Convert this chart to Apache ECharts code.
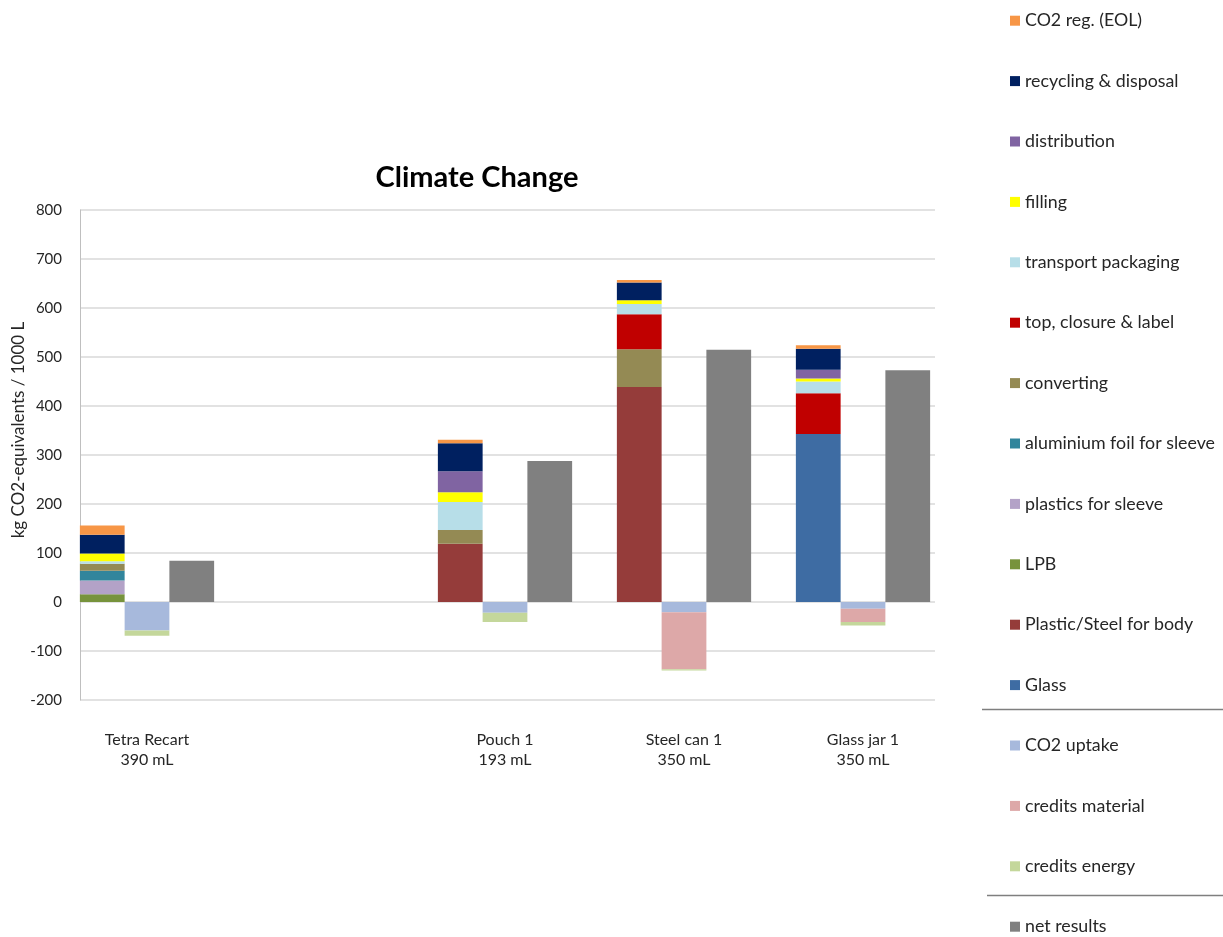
<!DOCTYPE html>
<html>
<head>
<meta charset="utf-8">
<script src="https://cdn.jsdelivr.net/npm/echarts@6/dist/echarts.min.js"></script>
<style>
html,body{margin:0;padding:0;background:#fff;}
#chart{width:1223px;height:937px;}
</style>
</head>
<body>
<div id="chart"></div>
<script>
// ---- data ----
const categories = ['Tetra Recart\n390 mL', '', 'Pouch 1\n193 mL', 'Steel can 1\n350 mL', 'Glass jar 1\n350 mL'];
const yTicks = [-200, -100, 0, 100, 200, 300, 400, 500, 600, 700, 800];

// positive contributions (stack order bottom -> top)
const glass              = [0,   null, 0,   0,   343];
const plasticSteelBody   = [0,   null, 119, 439, 0];
const lpb                = [16,  null, 0,   0,   0];
const plasticsSleeve     = [28,  null, 0,   0,   0];
const aluFoilSleeve      = [20,  null, 0,   0,   0];
const converting         = [14,  null, 28,  77,  0];
const topClosureLabel    = [0,   null, 0,   71,  83];
const transportPackaging = [5,   null, 57,  21,  24];
const filling            = [16,  null, 20,  8,   6];
const distribution       = [0,   null, 43,  0,   18];
const recyclingDisposal  = [38,  null, 57,  36,  43];
const co2RegEOL          = [19,  null, 7,   5,   7];
// credits
const co2Uptake          = [-58, null, -22, -21, -14];
const creditsMaterial    = [0,   null, 0,   -116, -27];
const creditsEnergy      = [-11, null, -19, -3,  -7];
// net
const netResults         = [84,  null, 288, 515, 473];

const posSeries = [
  ['Glass', glass, '#3E6CA3'],
  ['Plastic/Steel for body', plasticSteelBody, '#953C3A'],
  ['LPB', lpb, '#77933C'],
  ['plastics for sleeve', plasticsSleeve, '#B3A2C7'],
  ['aluminium foil for sleeve', aluFoilSleeve, '#31859C'],
  ['converting', converting, '#948A54'],
  ['top, closure & label', topClosureLabel, '#C00000'],
  ['transport packaging', transportPackaging, '#B7DEE8'],
  ['filling', filling, '#FFFF00'],
  ['distribution', distribution, '#8064A2'],
  ['recycling & disposal', recyclingDisposal, '#002060'],
  ['CO2 reg. (EOL)', co2RegEOL, '#F79646']
];
const negSeries = [
  ['CO2 uptake', co2Uptake, '#A7B9DC'],
  ['credits material', creditsMaterial, '#DDA8A8'],
  ['credits energy', creditsEnergy, '#C4D79B']
];
const netSeries = [['net results', netResults, '#808080']];

const legendOrder = [
  'CO2 reg. (EOL)', 'recycling & disposal', 'distribution', 'filling', 'transport packaging',
  'top, closure & label', 'converting', 'aluminium foil for sleeve', 'plastics for sleeve',
  'LPB', 'Plastic/Steel for body', 'Glass', 'CO2 uptake', 'credits material', 'credits energy', 'net results'
];

const FONT = 'Lato, "Open Sans", sans-serif';

function mk(list, stack) {
  return list.map(([name, data, color]) => ({
    name, type: 'bar', stack, data,
    xAxisIndex: 1, yAxisIndex: 1,
    barGap: '0%', barCategoryGap: '25%',
    itemStyle: { color },
    emphasis: { disabled: true }
  }));
}

const chart = echarts.init(document.getElementById('chart'), null, { renderer: 'canvas' });
chart.setOption({
  animation: false,
  backgroundColor: '#fff',
  title: {
    text: 'Climate Change', left: 472, top: 158, textAlign: 'center',
    textStyle: { fontFamily: FONT, fontSize: 29, fontWeight: 'bold', color: '#000' }
  },
  legend: {
    orient: 'vertical', left: 1010, top: 10.7, padding: 0,
    itemWidth: 10, itemHeight: 10, itemGap: 40.4, icon: 'rect',
    data: legendOrder,
    selectedMode: false,
    textStyle: { fontFamily: FONT, fontSize: 17.8, color: '#262626', lineHeight: 20 }
  },
  grid: [
    { left: 80, top: 210, width: 855, height: 490 },
    { left: 57.5, top: 210, width: 895, height: 490 }
  ],
  xAxis: [
    { gridIndex: 0, type: 'category', data: categories, show: false },
    {
      gridIndex: 1, type: 'category', data: categories,
      axisLine: { show: false }, axisTick: { show: false },
      axisLabel: { margin: 30, fontFamily: FONT, fontSize: 16, color: '#262626', lineHeight: 20, interval: 0 }
    }
  ],
  yAxis: [
    {
      gridIndex: 0, type: 'value', min: -200, max: 800, interval: 100,
      axisLine: { show: true, lineStyle: { color: '#BFBFBF', width: 1 } },
      axisTick: { show: false },
      splitLine: { show: true, lineStyle: { color: '#D9D9D9', width: 1.5 } },
      axisLabel: { margin: 18, fontFamily: FONT, fontSize: 15, color: '#262626' }
    },
    { gridIndex: 1, type: 'value', min: -200, max: 800, interval: 100, show: false, splitLine: { show: false } }
  ],
  graphic: [
    { type: 'text', x: 19, y: 430, rotation: Math.PI / 2, style: {
        text: 'kg CO2-equivalents / 1000 L', fontFamily: FONT, fontSize: 17, fill: '#262626',
        align: 'center', verticalAlign: 'middle' } },
    { type: 'line', shape: { x1: 982, y1: 709.5, x2: 1223, y2: 709.5 }, style: { stroke: '#7F7F7F', lineWidth: 1.5 } },
    { type: 'line', shape: { x1: 987, y1: 895.5, x2: 1223, y2: 895.5 }, style: { stroke: '#7F7F7F', lineWidth: 1.5 } }
  ],
  series: [].concat(mk(posSeries, 'pos'), mk(negSeries, 'neg'), mk(netSeries, 'net'))
});
</script>
</body>
</html>
